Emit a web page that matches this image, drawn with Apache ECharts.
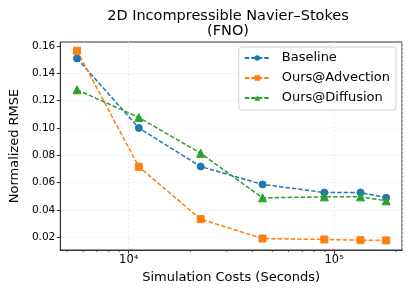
<!DOCTYPE html>
<html><head><meta charset="utf-8">
<script src="https://cdn.jsdelivr.net/npm/echarts@6/dist/echarts.min.js"></script>
<style>html,body{margin:0;padding:0;background:#fff}#c{width:411px;height:294px}</style>
</head><body><div id="c"></div>
<script>
const costs = [5600, 11200, 22400, 44800, 89600, 134400, 179200];
const baseline = [0.151, 0.100, 0.0718, 0.0587, 0.0528, 0.0528, 0.0490];
const advection = [0.1566, 0.0716, 0.0333, 0.0191, 0.0184, 0.0179, 0.0177];
const diffusion = [0.128, 0.1078, 0.0815, 0.0489, 0.0496, 0.0496, 0.0467];
const yTicks = [0.02, 0.04, 0.06, 0.08, 0.10, 0.12, 0.14, 0.16];
const minorTicks = [5000,6000,7000,8000,9000,20000,30000,40000,50000,60000,70000,80000,90000,200000];
const FONT = 'DejaVu Sans';

const chart = echarts.init(document.getElementById('c'), null, {renderer:'canvas'});
function mk(name, data, color, symbol, size){
  return {
    name, type:'line', data: costs.map((c,i)=>[c,data[i]]),
    symbol, symbolSize:size, showSymbol:true,
    itemStyle:{color, borderColor:color},
    lineStyle:{color, width:1.5, type:[4.5,2]},
    z:3
  };
}
chart.setOption({
  animation:false,
  textStyle:{fontFamily:FONT},
  title:{
    text:'2D Incompressible Navier–Stokes\n(FNO)',
    left:228, top:9, padding:0, textAlign:'center',
    textStyle:{fontFamily:FONT, fontSize:14.5, fontWeight:'normal', color:'#000', lineHeight:14.5}
  },
  grid:{left:56, right:9, top:42, bottom:44, show:true, borderColor:'#333', borderWidth:1, backgroundColor:'transparent'},
  legend:{
    orient:'vertical', right:15, top:47,
    padding:[4,6,5,5], itemGap:6, itemWidth:25, itemHeight:7,
    backgroundColor:'rgba(255,255,255,0.85)', borderColor:'#d0d0d0', borderWidth:1, borderRadius:3,
    textStyle:{fontFamily:FONT, fontSize:13, color:'#000', padding:[0,0,0,7], lineHeight:14},
    data:['Baseline','Ours@Advection','Ours@Diffusion']
  },
  xAxis:{
    type:'log', logBase:10, min:4642, max:214000,
    name:'Simulation Costs (Seconds)', nameLocation:'middle', nameGap:19,
    nameTextStyle:{fontFamily:FONT, fontSize:13, color:'#000'},
    axisLine:{show:true, lineStyle:{color:'#333', width:1}},
    axisTick:{show:true, inside:false, length:3.5, lineStyle:{color:'#333'}},
    axisLabel:{fontFamily:FONT, fontSize:11.5, color:'#000', margin:4, showMinLabel:false, showMaxLabel:false,
      formatter:function(v){ const e=Math.round(Math.log10(v)); const sup=['⁰','¹','²','³','⁴','⁵','⁶']; return '10'+sup[e]; }},
    splitLine:{show:true, lineStyle:{color:'#e6e6e6', width:0.8, type:[2,2]}},
    minorTick:{show:false}
  },
  yAxis:{
    type:'value', min:0.0107, max:0.163,
    name:'Normalized RMSE', nameLocation:'middle', nameGap:36,
    nameTextStyle:{fontFamily:FONT, fontSize:13, color:'#000'},
    axisLine:{show:true, lineStyle:{color:'#333', width:1}},
    axisTick:{show:true, inside:false, length:3.5, lineStyle:{color:'#333'}, customValues:yTicks},
    axisLabel:{fontFamily:FONT, fontSize:10.5, color:'#000', margin:5, customValues:yTicks,
      formatter:function(v){ return v.toFixed(2); }},
    splitLine:{show:false}
  },
  series:[
    mk('Baseline', baseline, '#1f77b4', 'circle', 7),
    mk('Ours@Advection', advection, '#ff7f0e', 'rect', 7),
    mk('Ours@Diffusion', diffusion, '#2ca02c', 'triangle', 8)
  ]
});
const yb = chart.convertToPixel({yAxisIndex:0}, 0.0107);
const xl = chart.convertToPixel({xAxisIndex:0}, 4642);
const xr = chart.convertToPixel({xAxisIndex:0}, 214000);
const g = minorTicks.map(v=>{
  const x = chart.convertToPixel({xAxisIndex:0}, v);
  return {type:'line', shape:{x1:x,y1:yb,x2:x,y2:yb+2}, style:{stroke:'#333', lineWidth:0.8}, silent:true};
});
yTicks.forEach(v=>{
  const y = chart.convertToPixel({yAxisIndex:0}, v);
  g.push({type:'line', z:-1, shape:{x1:xl,y1:y,x2:xr,y2:y}, style:{stroke:'#e6e6e6', lineWidth:0.8, lineDash:[2,2]}, silent:true});
});
chart.setOption({graphic:g});
</script></body></html>
